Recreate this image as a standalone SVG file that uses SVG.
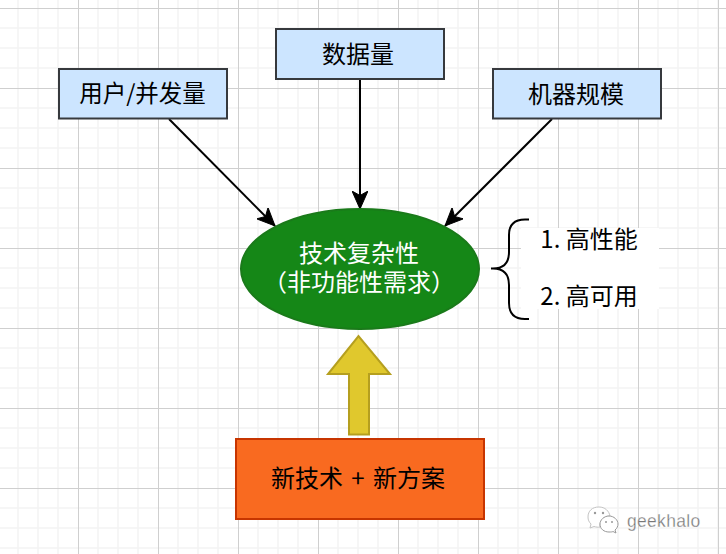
<svg xmlns="http://www.w3.org/2000/svg" width="726" height="554" viewBox="0 0 726 554">
<defs>
<style>
.t{font-family:"Noto Sans CJK SC","Liberation Sans",sans-serif;font-size:24px;text-anchor:middle;fill:#000}
.box{fill:#cce5ff;stroke:#36393d;stroke-width:2}
.conn{fill:none;stroke:#000;stroke-width:2}
.minor{stroke:#f3f3f3;stroke-width:1.5;fill:none}
.major{stroke:#cfcfcf;stroke-width:1;fill:none}
</style>
<marker id="arr" viewBox="0 0 20 16" refX="18" refY="8" markerWidth="20" markerHeight="16" markerUnits="userSpaceOnUse" orient="auto">
<path d="M0 0L18 8L0 16L4.5 8Z" fill="#000" stroke="#000" stroke-width="1"/>
</marker>
</defs>
<rect width="726" height="554" fill="#fff"/>
<g id="grid">
<path class="minor" d="M18 0V554M38 0V554M58 0V554M98 0V554M118 0V554M138 0V554M178 0V554M198 0V554M218 0V554M258 0V554M278 0V554M298 0V554M338 0V554M358 0V554M378 0V554M418 0V554M438 0V554M458 0V554M498 0V554M518 0V554M538 0V554M578 0V554M598 0V554M618 0V554M658 0V554M678 0V554M698 0V554M718 0V554"/>
<path class="minor" d="M0 28H726M0 48H726M0 68H726M0 108H726M0 128H726M0 148H726M0 188H726M0 208H726M0 228H726M0 268H726M0 288H726M0 308H726M0 348H726M0 368H726M0 388H726M0 428H726M0 448H726M0 468H726M0 508H726M0 528H726M0 548H726"/>
<path class="major" d="M78.500 0V554M158.500 0V554M238.500 0V554M318.500 0V554M398.500 0V554M478.500 0V554M558.500 0V554M638.500 0V554M718.500 0V554"/>
<path class="major" d="M0 8.500H726M0 88.500H726M0 168.500H726M0 248.500H726M0 328.500H726M0 408.500H726M0 488.500H726"/>
</g>
<g id="connectors">
<path class="conn" marker-end="url(#arr)" d="M169 119L275 226"/>
<path class="conn" marker-end="url(#arr)" d="M360 79V209"/>
<path class="conn" marker-end="url(#arr)" d="M552 119L445 226"/>
</g>
<g id="user"><rect class="box" x="59" y="69" width="168" height="49.500"/><text class="t" x="142.500" y="102" style="font-size:23.500px">用户/并发量</text></g>
<g id="data"><rect class="box" x="276" y="29" width="168" height="50"/><text class="t" x="358" y="63">数据量</text></g>
<g id="machine"><rect class="box" x="493" y="69" width="168" height="49.500"/><text class="t" x="576" y="103">机器规模</text></g>
<g id="complexity">
<ellipse cx="360" cy="269" rx="119" ry="60" fill="#158717" stroke="#1a7a1a" stroke-width="2"/>
<text class="t" style="fill:#fff"><tspan x="359" y="262">技术复杂性</tspan><tspan x="359" y="291">（非功能性需求）</tspan></text>
</g>
<g id="brace">
<path d="M529 219.500H525Q509 219.500 509 235V252Q509 268.500 493 268.500H491M493 268.500Q509 268.500 509 285V303Q509 319 525 319H529" fill="none" stroke="#000" stroke-width="2"/>
</g>
<g id="labels">
<rect x="521" y="228" width="138" height="81" fill="#fff"/>
<text class="t" x="589" y="248">1. 高性能</text>
<text class="t" x="589" y="305">2. 高可用</text>
</g>
<g id="bigarrow">
<path d="M349 434.500V374H328L358.500 336L390 374H369V434.500Z" fill="#e0c82d" stroke="#b59f1f" stroke-width="2"/>
</g>
<g id="tech">
<rect x="236" y="439" width="248" height="80" fill="#f96a20" stroke="#c73500" stroke-width="2"/>
<text class="t" x="358" y="487" style="word-spacing:3px">新技术 + 新方案</text>
</g>
<g id="watermark">
<path d="M599 507C592 507 588 511 588 517C588 520 589 522 591 524L590 528L594 526.500C596 527 598 527.500 600 527C599 521 604 516 610 516C609 511 605 507 599 507Z" fill="#fff" stroke="#c4c4c4" stroke-width="1"/>
<path d="M609 516C604 516 600 520 600 524C600 529 604 532 609 532C611 532 612 532 613 531.500L616 533L615 530C617 528.500 618 526 618 524C618 520 614 516 609 516Z" fill="#fff" stroke="#999" stroke-width="1"/>
<circle cx="595" cy="513" r="1.200" fill="#999"/><circle cx="603" cy="513" r="1.200" fill="#999"/>
<circle cx="606" cy="522" r="1" fill="#999"/><circle cx="612" cy="522" r="1" fill="#999"/>
<text x="627" y="527" style="font-family:'Liberation Sans',sans-serif;font-size:17.500px;fill:#777;stroke:#fff;stroke-width:0.300;letter-spacing:0.300px">geekhalo</text>
</g>
</svg>
